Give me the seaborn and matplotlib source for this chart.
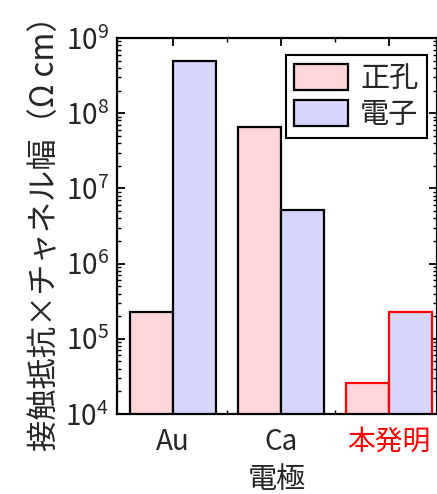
import numpy as np
import pandas as pd
import matplotlib
matplotlib.use("Agg")
import matplotlib.pyplot as plt
from matplotlib.ticker import FixedLocator, LogLocator, NullFormatter, LogFormatterMathtext
import seaborn as sns

# data
electrodes = ["Au", "Ca", "本発明"]
carriers = ["正孔", "電子"]
hole_values = [2.3e5, 6.5e7, 2.6e4]
electron_values = [4.9e8, 5.1e6, 2.3e5]

hole_color = "#FFD6D9"
electron_color = "#D6D6FF"

sns.set_theme(style="white")
plt.rcParams["font.family"] = ["Noto Sans CJK JP", "DejaVu Sans"]
plt.rcParams["mathtext.fontset"] = "custom"
plt.rcParams["mathtext.rm"] = "Noto Sans CJK JP"
plt.rcParams["mathtext.default"] = "rm"

df = pd.DataFrame({
    "電極": electrodes * 2,
    "carrier": [carriers[0]] * 3 + [carriers[1]] * 3,
    "value": hole_values + electron_values,
})

fig = plt.figure(figsize=(4.37, 4.94), dpi=100)
ax = fig.add_axes([117 / 437, 1 - 414 / 494, 320 / 437, 376 / 494])

sns.barplot(data=df, x="電極", y="value", hue="carrier", hue_order=carriers,
            palette=[hole_color, electron_color], width=0.8, gap=0,
            edgecolor="black", linewidth=1.6, saturation=1, ax=ax)

# red outline for the third group
for cont in ax.containers:
    cont.patches[2].set_edgecolor("red")

ax.set_yscale("log")
ax.set_ylim(1e4, 1e9)
ax.set_xlim(-0.52, 2.445)

ax.yaxis.set_major_locator(LogLocator(base=10, numticks=10))
ax.yaxis.set_major_formatter(LogFormatterMathtext())
ax.yaxis.set_minor_locator(LogLocator(base=10, subs=np.arange(2, 10), numticks=20))
ax.yaxis.set_minor_formatter(NullFormatter())
ax.xaxis.set_minor_locator(FixedLocator([0.5, 1.5]))

ax.tick_params(axis="both", which="both", direction="in", top=True, right=True,
               bottom=True, left=True, color="black")
ax.tick_params(axis="both", which="major", length=6, width=1.3, labelsize=20, pad=6)
ax.tick_params(axis="both", which="minor", length=3, width=1.0)
ax.tick_params(axis="x", which="major", pad=9)

for sp in ax.spines.values():
    sp.set_color("black")
    sp.set_linewidth(1.6)

ax.get_xticklabels()[2].set_color("red")

ax.set_xlabel("電極", fontsize=21, labelpad=6)
ax.set_ylabel("接触抵抗×チャネル幅（Ω cm）", fontsize=22.5, labelpad=3)

leg = ax.legend(loc="upper right", bbox_to_anchor=(0.969, 0.955), borderaxespad=0,
                fontsize=21, frameon=True, fancybox=False, framealpha=1,
                handlelength=1.85, handleheight=1.0, handletextpad=0.4,
                borderpad=0.3, labelspacing=0.2, title=None)
leg.get_frame().set_edgecolor("black")
leg.get_frame().set_linewidth(1.5)

fig.savefig("out.png", dpi=100)
